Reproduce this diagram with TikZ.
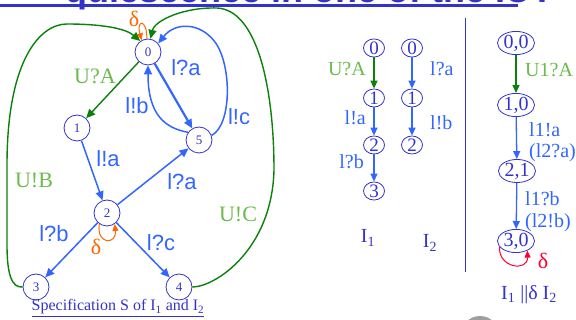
\documentclass[tikz,border=0pt]{standalone}
\usepackage{fontspec}
\setmainfont{Liberation Serif}
\setsansfont{Liberation Sans}
\usetikzlibrary{arrows.meta,shapes.geometric}
\definecolor{nodeblue}{HTML}{3333CC}
\definecolor{edgeblue}{HTML}{3366FF}
\definecolor{dgreen}{HTML}{0A820A}
\definecolor{lgreen}{HTML}{6CBB4C}
\definecolor{dorange}{HTML}{FF6600}
\definecolor{dred}{HTML}{FF0033}
\tikzset{
 st/.style={circle,draw=nodeblue,line width=0.8pt,minimum size=26pt,inner sep=0pt,text=nodeblue,font=\fontsize{13}{13}\selectfont},
 mst/.style={ellipse,draw=nodeblue,line width=0.8pt,minimum width=21pt,minimum height=18pt,inner sep=0pt,text=nodeblue,font=\fontsize{19}{19}\selectfont},
 pst/.style={ellipse,draw=nodeblue,line width=0.8pt,minimum width=37pt,minimum height=19pt,inner sep=0pt,text=nodeblue,font=\fontsize{20}{20}\selectfont},
 be/.style={draw=edgeblue,line width=1.5pt,-{Triangle[length=9pt,width=8pt]}},
 ge/.style={draw=dgreen,line width=1.4pt,-{Triangle[length=9pt,width=8pt]}},
 mbe/.style={draw=edgeblue,line width=1.3pt,-{Triangle[length=8pt,width=7pt]}},
 mge/.style={draw=dgreen,line width=1.3pt,-{Triangle[length=8pt,width=7pt]}},
 oloop/.style={draw=dorange,line width=1pt,-{Triangle[length=7pt,width=6pt]}},
 rloop/.style={draw=dred,line width=1pt,-{Triangle[length=7pt,width=6pt]}},
 slab/.style={inner sep=0pt,text=edgeblue,font=\sffamily\fontsize{22}{22}\selectfont},
 glab/.style={inner sep=0pt,text=lgreen,font=\fontsize{22}{22}\selectfont},
 mlab/.style={inner sep=0pt,text=edgeblue,font=\fontsize{20}{20}\selectfont},
 mglab/.style={inner sep=0pt,text=lgreen,font=\fontsize{20}{20}\selectfont},
 dlab/.style={inner sep=0pt,text=dorange,font=\fontsize{22}{22}\selectfont},
 ilab/.style={inner sep=0pt,text=nodeblue,font=\fontsize{20}{20}\selectfont},
}
\begin{document}
\begin{tikzpicture}[x=1pt,y=-1pt]
\useasboundingbox (0,0) rectangle (576,320);
\clip (0,0) rectangle (576,320);
\fill[white] (0,0) rectangle (576,320);
% title (cut off)
\node[anchor=base west,inner sep=0pt,text=nodeblue,font=\sffamily\bfseries\fontsize{36}{36}\selectfont] (title) at (65,3) {quiescence in one of the IUT};
\draw[nodeblue,line width=2.5pt] (0,5.5) -- (518,5.5);
% left specification
\node[st] (s0) at (148,52) {0};
\node[st] (s1) at (77,128) {1};
\node[st] (s5) at (199,140) {5};
\node[st] (s2) at (107,213) {2};
\node[st] (s3) at (36,287) {3};
\node[st] (s4) at (179,287) {4};
\draw[ge] (s0) -- (s1);
\draw[be] (s1) -- (s2);
\draw[be] (s2) -- (s5);
\draw[be,line width=2.2pt] (s0) -- (s5);
\draw[be] (s2) -- (s3);
\draw[be] (s2) -- (s4);
\draw[be] (s5.145) .. controls (165,128) and (148,115) .. (s0.south);
\draw[be] (s5.20) .. controls (232,125) and (232,65) .. (215,42) .. controls (200,22) and (175,22) .. (s0.40);
\draw[ge] (s3.west) .. controls (12,288) and (7,275) .. (7,245) -- (7,165) .. controls (7,60) and (40,24) .. (67,24) .. controls (100,24) and (125,28) .. (s0.125);
\draw[ge] (s4.east) .. controls (215,287) and (272,250) .. (274,170) .. controls (274,90) and (258,10) .. (217,8) .. controls (185,7) and (155,20) .. (s0.80);
\draw[oloop] (s0.95) .. controls (147,18) and (136,20) .. (s0.118);
\draw[oloop] (s2.235) .. controls (96,245) and (117,245) .. (s2.-55);
\node[glab] (lua) at (95,76) {U?A};
\node[slab] (l0a) at (186,68) {l?a};
\node[slab] (l5b) at (137,106) {l!b};
\node[slab] (l5c) at (239,117) {l!c};
\node[slab] (l1a) at (108,159) {l!a};
\node[slab] (l2a) at (182,182) {l?a};
\node[glab] (lub) at (34,180) {U!B};
\node[glab] (luc) at (238,214) {U!C};
\node[slab] (l2b) at (54,234) {l?b};
\node[slab] (l2c) at (161,243) {l?c};
\node[dlab] (d2) at (96,247) {δ};
\node[dlab] (d0) at (134,19) {δ};
\node[inner sep=0pt,text=nodeblue,font=\fontsize{16}{16}\selectfont] (cap) at (118,308) {\underline{Specification S of I\textsubscript{1} and I\textsubscript{2}}};
% I1
\node[mst] (m0) at (374,48) {0};
\node[mst] (m1) at (374,98) {1};
\node[mst] (m2) at (374,145) {2};
\node[mst] (m3) at (374,191) {3};
\draw[mge] (m0) -- (m1);
\draw[mbe] (m1) -- (m2);
\draw[mbe] (m2) -- (m3);
\node[mglab,anchor=east] (mua) at (366,69) {U?A};
\node[mlab,anchor=east] (mla) at (366,118) {l!a};
\node[mlab,anchor=east] (mlb) at (364,162) {l?b};
% I2
\node[mst] (n0) at (412,48) {0};
\node[mst] (n1) at (412,98) {1};
\node[mst] (n2) at (412,145) {2};
\draw[mbe] (n0) -- (n1);
\draw[mbe] (n1) -- (n2);
\node[mlab,anchor=west] (nla) at (430,69) {l?a};
\node[mlab,anchor=west] (nlb) at (430,123) {l!b};
\node[ilab] (i1) at (368,238) {I\textsubscript{1}};
\node[ilab] (i2) at (430,243) {I\textsubscript{2}};
% separator
\draw[nodeblue,line width=0.8pt] (465,18) -- (465,272);
% product
\node[pst] (r0) at (516,43) {0,0};
\node[pst] (r1) at (516,105) {1,0};
\node[pst] (r2) at (517,171) {2,1};
\node[pst] (r3) at (516,241) {3,0};
\draw[mge] (r0) -- (r1);
\draw[mbe] (r1) -- (r2);
\draw[mbe] (r2) -- (r3);
\draw[rloop] (r3.200) .. controls (498,268) and (528,272) .. (r3.-40);
\node[mglab,anchor=west] (rua) at (525,70) {U1?A};
\node[mlab,anchor=west] (r1a) at (529,130) {l1!a};
\node[mlab,anchor=west] (r2a) at (529,153) {(l2?a)};
\node[mlab,anchor=west] (r1b) at (525,199) {l1?b};
\node[mlab,anchor=west] (r2b) at (525,223) {(l2!b)};
\node[inner sep=0pt,text=dred,font=\fontsize{22}{22}\selectfont] (rd) at (543,261) {δ};
\node[ilab] (prod) at (529,295) {I\textsubscript{1} ||δ I\textsubscript{2}};
% logo (partly visible)
\fill[gray!75] (480,335) circle[radius=19pt];
\fill[gray!25] (480,335) circle[radius=13pt];
\end{tikzpicture}
\end{document}
